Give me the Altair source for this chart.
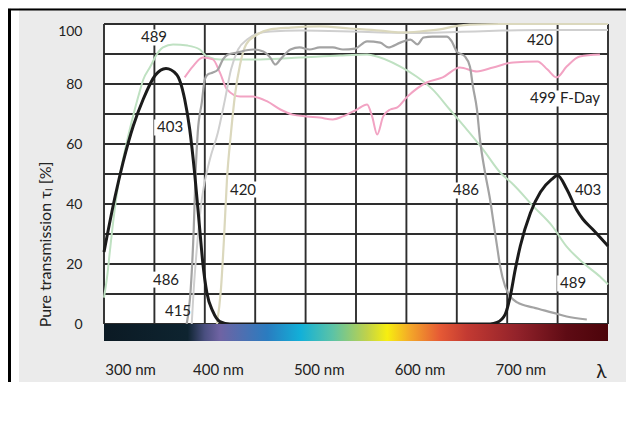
import altair as alt
import pandas as pd

# ---------------- data (wavelength nm, transmission %) ----------------
X_DOMAIN = [285, 785]
Y_DOMAIN = [-5.667, 100]
X_GRID = [285, 335, 385, 435, 485, 535, 585, 635, 685, 735, 785]
Y_GRID = [0, 10, 20, 30, 40, 50, 60, 70, 80, 90, 100]
X_TICKS = [300, 400, 500, 600, 700, 780]
Y_TICKS = [0, 20, 40, 60, 80, 100]

l_403 = [285, 296, 304, 314, 324, 336, 346.5, 357, 365, 370, 375, 380, 383, 387, 393, 400, 410,
         668, 675, 683, 688, 693, 698, 708, 718, 729, 735, 744, 754, 760, 770, 785]
v_403 = [24, 42.5, 54, 66, 75, 83, 85.2, 83.2, 75, 65, 50, 31.5, 20.5, 10.5, 4.2, 0.8, 0,
         0, 0.5, 3.2, 9.2, 18.2, 26, 37, 44, 48.2, 49.5, 45, 38, 35, 31.5, 26]

l_486 = [367, 371, 374, 376, 378, 382, 385, 388, 393, 398, 403, 408, 417, 433, 443, 450, 455, 460,
         470, 479, 489, 499, 512, 522, 534, 546, 559, 567, 579, 589, 596, 602, 611, 625, 630, 635,
         643, 648, 651, 655, 658, 663, 668, 671, 675, 678, 683, 688, 695, 711, 730, 744, 764]
v_486 = [0, 11.5, 31.5, 51.5, 63.8, 73.8, 81.5, 83.2, 83.8, 84.8, 88.2, 89.8, 90.5, 91.5, 90.8, 88.8,
         86.5, 88.2, 91.5, 92.2, 91.5, 92.2, 92.2, 91.5, 91.8, 94.2, 93.8, 92.2, 93.8, 94.8, 93.2,
         95.5, 95.8, 95.8, 94.2, 90.8, 89.2, 85.8, 79.2, 71.5, 61.5, 50.5, 41.5, 34.8, 25.8, 19.2,
         12.5, 9.2, 7.2, 5.5, 3.8, 2.5, 1.5]

l_415 = [372, 374, 377, 382, 390, 398, 405, 411, 418, 427, 437, 450, 480, 520, 560, 600, 640, 680, 720, 785]
v_415 = [0, 11.5, 24.8, 41.5, 54.8, 63.8, 74.8, 84.8, 91.5, 94.8, 96.8, 97.5, 97.8, 97.6, 97.2, 97.0,
         97.4, 97.8, 98.0, 98.0]

l_420 = [397, 401, 404, 407, 411, 415, 420, 426, 437, 450, 470, 499, 529, 559, 579, 598, 618, 633,
         648, 678, 728, 785]
v_420 = [0, 11.5, 28.2, 48.2, 63.8, 76.5, 86.5, 93.2, 96.5, 98.2, 98.8, 99.2, 98.5, 97.8, 97.2, 97.5,
         98.2, 99.2, 99.8, 100, 100, 100]

l_489 = [285, 288, 291, 295, 300, 306, 313, 319, 324, 331, 338, 343.5, 353.5, 368, 380, 387, 400, 440,
         479, 519, 546, 552, 579, 595, 611, 628, 645, 661, 678, 691, 711, 730, 744, 760, 777, 785]
v_489 = [8.8, 15.5, 24.8, 36.5, 48.2, 58.2, 68.2, 75.8, 81.5, 85.8, 90.2, 92.2, 93.2, 92.8, 91.5,
         89.2, 88.2, 88.2, 88.8, 89.5, 89.8, 89.5, 85.8, 82.5, 78.2, 71.5, 64.8, 58.2, 50.5, 46.5,
         39.2, 32.5, 25.8, 20.5, 15.8, 13.2]

l_499 = [365, 373, 383, 393, 400, 407, 420, 433, 447, 460, 472, 486, 499, 512, 522, 536, 546, 551,
         556, 562, 569, 576, 586, 605, 621, 638, 655, 671, 691, 715, 725, 734, 744, 757, 777]
v_499 = [82.2, 85.8, 88.8, 88.2, 83.8, 78.2, 75.8, 75.8, 74.2, 71.5, 69.8, 69.2, 68.8, 68.2, 69.2,
         71.5, 73.2, 69.2, 63.2, 69.2, 71.5, 72.2, 75.8, 80.5, 82.2, 85.5, 84.2, 85.5, 87.2, 87.5,
         84.8, 82.2, 85.8, 89.2, 89.8]

label_text = ["489", "403", "420", "486", "415", "420", "499 F-Day", "486", "403", "489"]
label_l = [334.6, 350.5, 422.9, 346.5, 358.4, 717.5, 742.3, 644.1, 765.2, 750.3]
label_v = [95.5, 65.5, 44.8, 14.8, 4.2, 94.8, 75.2, 44.5, 44.5, 13.5]

spec_l = [285, 368, 385, 400, 447, 480, 512, 546, 566, 589, 618, 645, 695, 744, 785]
spec_c = ["#0b1a24", "#0e2430", "#4a4f80", "#6f63a3", "#2a7cc0", "#12b0d8", "#5cc3a6", "#c0d24a",
          "#f7ee10", "#f3a629", "#e65a35", "#c33a32", "#92222a", "#5e0b14", "#4c040a"]

# ---------------- styling ----------------
W, H = 504, 317
PX_X = W / (X_DOMAIN[1] - X_DOMAIN[0])
PX_Y = H / (Y_DOMAIN[1] - Y_DOMAIN[0])
FONT = "Lato"
INK = "#222222"
PANEL = "#ebebeb"


def px_to_l(px):
    return X_DOMAIN[0] + px / PX_X


def px_to_v(py):
    return Y_DOMAIN[1] - py / PX_Y


xs = alt.Scale(domain=X_DOMAIN, nice=False, zero=False)
ys = alt.Scale(domain=Y_DOMAIN, nice=False, zero=False)

x_enc = alt.X("l:Q", scale=xs, axis=alt.Axis(
    values=X_TICKS, grid=False, ticks=False, domain=False, title=None, zindex=1,
    labelExpr="datum.value == 780 ? 'λ' : datum.value + ' nm'",
    labelFont=FONT, labelColor=INK, labelPadding=21,
    labelFontSize={"condition": {"test": "datum.value == 780", "value": 19}, "value": 15},
    labelOffset={"condition": {"test": "datum.value == 300", "value": 11}, "value": -2},
    labelFlush=False, labelOverlap=False))
y_enc = alt.Y("v:Q", scale=ys, axis=alt.Axis(
    values=Y_TICKS, grid=False, ticks=False, domain=False, zindex=1,
    title="Pure transmission τₗ [%]", titleFont=FONT, titleFontSize=16, titleFontWeight="normal",
    titleColor=INK, titleAngle=270, titleX=-59, titleY=220, titleAlign="center", titleBaseline="middle",
    labelFont=FONT, labelFontSize=14, labelColor=INK, labelPadding=22,
    labelOffset={"condition": {"test": "datum.value == 100", "value": 7}, "value": 1}))

# page decoration: grey panel, white strip and black frame lines
panel_df = pd.DataFrame({"l": [px_to_l(-85)], "l2": [px_to_l(522)],
                         "v": [px_to_v(358)], "v2": [px_to_v(-14)]})
panel = alt.Chart(panel_df).mark_rect(fill=PANEL, opacity=1, strokeWidth=0, clip=False).encode(
    x=x_enc, x2="l2:Q", y=y_enc, y2="v2:Q")

one = pd.DataFrame({"k": [0]})
white_strip = alt.Chart(one).mark_rule(color="white", strokeWidth=8, strokeCap="butt").encode(
    x=alt.value(-89), y=alt.value(-16), y2=alt.value(358))
top_line = alt.Chart(one).mark_rule(color="#000000", strokeWidth=2).encode(
    x=alt.value(-96), x2=alt.value(522), y=alt.value(-14.5))
left_line = alt.Chart(one).mark_rule(color="#000000", strokeWidth=3).encode(
    x=alt.value(-94.5), y=alt.value(-15), y2=alt.value(358))

area_df = pd.DataFrame({"l": [X_DOMAIN[0]], "l2": [X_DOMAIN[1]], "v": [0], "v2": [100]})
white_area = alt.Chart(area_df).mark_rect(color="white").encode(
    x=x_enc, x2="l2:Q", y=y_enc, y2="v2:Q")

span = X_DOMAIN[1] - X_DOMAIN[0]
grad = alt.Gradient(gradient="linear", x1=0, x2=1, y1=0, y2=0,
                    stops=[alt.GradientStop(color=c, offset=(l - X_DOMAIN[0]) / span)
                           for l, c in zip(spec_l, spec_c)])
spec_df = pd.DataFrame({"l": [X_DOMAIN[0]], "l2": [X_DOMAIN[1]], "v": [Y_DOMAIN[0]], "v2": [0]})
spectrum = alt.Chart(spec_df).mark_rect(color=grad).encode(
    x=x_enc, x2="l2:Q", y=y_enc, y2="v2:Q")

hgrid = alt.Chart(pd.DataFrame({"v": Y_GRID})).mark_rule(color="#2e2e2e", strokeWidth=1.9).encode(y=y_enc)
vgrid = alt.Chart(pd.DataFrame({"l": X_GRID, "v": [0] * len(X_GRID), "v2": [100] * len(X_GRID)})
                  ).mark_rule(color="#2e2e2e", strokeWidth=1.9).encode(x=x_enc, y=y_enc, y2="v2:Q")

box_df = pd.DataFrame({
    "l": [l - (len(t) * 4.3 + 3) / PX_X for l, t in zip(label_l, label_text)],
    "l2": [l + (len(t) * 4.3 + 3) / PX_X for l, t in zip(label_l, label_text)],
    "v": [v - 8 / PX_Y for v in label_v],
    "v2": [v + 8 / PX_Y for v in label_v],
})
boxes = alt.Chart(box_df).mark_rect(color="white").encode(x=x_enc, x2="l2:Q", y=y_enc, y2="v2:Q")


def curve(ls, vs, color, width):
    d = pd.DataFrame({"l": ls, "v": vs})
    return alt.Chart(d).mark_line(color=color, strokeWidth=width, interpolate="monotone").encode(
        x=x_enc, y=y_enc, order=alt.Order("l:Q"))


c489 = curve(l_489, v_489, "#bfe1c2", 2)
c499 = curve(l_499, v_499, "#f2a3c3", 2)
c415 = curve(l_415, v_415, "#cfcfcf", 2)
c420 = curve(l_420, v_420, "#dbd8bd", 2.2)
c486 = curve(l_486, v_486, "#a3a3a3", 2.2)
c403 = curve(l_403, v_403, "#1b1b1b", 3)

labels = alt.Chart(pd.DataFrame({"l": label_l, "v": label_v, "t": label_text})).mark_text(
    font=FONT, fontSize=15, color=INK, align="center", baseline="middle").encode(
    x=x_enc, y=y_enc, text="t:N")

chart = alt.layer(
    panel, white_strip, top_line, left_line, white_area, hgrid, vgrid, boxes,
    c489, c499, c415, c420, c486, c403, spectrum, labels
).properties(
    width=W, height=H,
    padding={"left": 96, "top": 16, "right": 18, "bottom": 41},
    autosize=alt.AutoSizeParams(type="none"),
    background=PANEL,
).configure_view(stroke=None)

chart.save("out.html", embed_options={"renderer": "svg", "actions": False})
